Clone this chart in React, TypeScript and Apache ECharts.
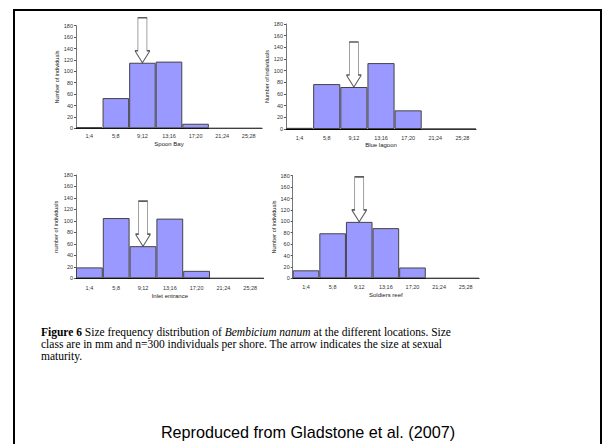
import React, { useEffect, useRef } from "react";
import * as echarts from "echarts";

const categories = ["1;4", "5;8", "9;12", "13;16", "17;20", "21;24", "25;28"];
const spoonBay = [2, 53, 115, 117, 8, 0, 0];
const blueLagoon = [2, 77, 72, 113, 32, 0, 0];
const inletEntrance = [19, 105, 56, 104, 13, 0, 0];
const soldiersReef = [14, 79, 99, 88, 19, 0, 0];
const locationNames = ["Spoon Bay", "Blue lagoon", "Inlet entrance", "Soldiers reef"];
const yAxisNames = ["Number of individuals", "Number of individuals", "number of individuals", "Number of individuals"];
const maturityClass = "9;12";

const SANS = "Liberation Sans, Arial, sans-serif";
const SERIF = "Liberation Serif, Times New Roman, serif";

const panels = [
  { data: spoonBay, grid: { left: 76, top: 25.7, width: 186, height: 102.6 }, yGap: 11, xGap: 13, lblMargin: 5 },
  { data: blueLagoon, grid: { left: 286, top: 24, width: 190, height: 105 }, yGap: 12, xGap: 12, lblMargin: 6 },
  { data: inletEntrance, grid: { left: 76, top: 175, width: 187.6, height: 103.3 }, yGap: 17, xGap: 15, lblMargin: 7 },
  { data: soldiersReef, grid: { left: 292.7, top: 175.7, width: 186.3, height: 102.6 }, yGap: 9, xGap: 14, lblMargin: 6 },
];

const captionLines = [
  "{b|Figure 6} Size frequency distribution of {i|Bembicium nanum} at the different locations. Size",
  "class are in mm and n=300 individuals per shore. The arrow indicates the size at sexual",
  "maturity.",
];

const arrowPath = "path://M3,0L12,0L12,33L15,33L7.5,45L0,33L3,33Z";

export default function App() {
  const ref = useRef<HTMLDivElement>(null);
  useEffect(() => {
    if (!ref.current) return;
    const chart = echarts.init(ref.current, null, { renderer: "svg" });
    const idx = categories.indexOf(maturityClass);
    const captionStyle = { fontSize: 11.5, fontFamily: SERIF, fill: "#000", lineHeight: 11.5 };
    const option: any = {
      animation: false,
      backgroundColor: "#ffffff",
      grid: panels.map((p) => ({ ...p.grid, containLabel: false })),
      xAxis: panels.map((p, i) => ({
        type: "category",
        gridIndex: i,
        data: categories,
        boundaryGap: true,
        name: locationNames[i],
        nameLocation: "middle",
        nameGap: p.xGap,
        nameTextStyle: { fontSize: 6, fontFamily: SANS, color: "#222" },
        axisLine: { lineStyle: { color: "#000", width: 1 } },
        axisTick: { show: false },
        axisLabel: { fontSize: 5.5, fontFamily: SANS, color: "#333", margin: p.lblMargin, interval: 0 },
      })),
      yAxis: panels.map((p, i) => ({
        type: "value",
        gridIndex: i,
        min: 0,
        max: 180,
        interval: 20,
        name: yAxisNames[i],
        nameLocation: "middle",
        nameGap: p.yGap,
        nameRotate: 90,
        nameTextStyle: { fontSize: 5.5, fontFamily: SANS, color: "#222" },
        splitLine: { show: false },
        axisLine: { show: true, lineStyle: { color: "#777", width: 1 } },
        axisTick: { show: true, length: 2, lineStyle: { color: "#555" } },
        axisLabel: { fontSize: 5.5, fontFamily: SANS, color: "#333", margin: 3 },
      })),
      series: [
        ...panels.map((p, i) => ({
          type: "bar",
          xAxisIndex: i,
          yAxisIndex: i,
          data: p.data,
          barCategoryGap: "0%",
          itemStyle: { color: "#9999ff", borderColor: "#444", borderWidth: 1 },
        })),
        ...panels.map((p, i) => ({
          type: "scatter",
          xAxisIndex: i,
          yAxisIndex: i,
          data: [[maturityClass, p.data[idx]]],
          symbol: arrowPath,
          symbolSize: [15, 45],
          symbolOffset: [0, -22.5],
          itemStyle: { color: "#ffffff", borderColor: "#333", borderWidth: 1 },
          z: 5,
        })),
      ],
      graphic: [
        {
          type: "rect",
          shape: { x: 14, y: 10, width: 587, height: 450 },
          style: { fill: "none", stroke: "#000", lineWidth: 2 },
          silent: true,
        },
        ...captionLines.map((line, i) => ({
          type: "text",
          x: 41,
          y: 326 + i * 12,
          style: {
            text: line,
            rich: {
              b: { ...captionStyle, fontWeight: "bold" },
              i: { ...captionStyle, fontStyle: "italic" },
            },
            ...captionStyle,
            textVerticalAlign: "top",
          },
        })),
        {
          type: "text",
          x: 308,
          y: 432,
          style: {
            text: "Reproduced from Gladstone et al. (2007)",
            fontSize: 16.2,
            fontFamily: SANS,
            fill: "#000",
            textAlign: "center",
            textVerticalAlign: "middle",
          },
        },
      ],
    };
    chart.setOption(option);
    return () => chart.dispose();
  }, []);
  return <div ref={ref} style={{ position: "absolute", left: 0, top: 0, width: 602, height: 444 }} />;
}
